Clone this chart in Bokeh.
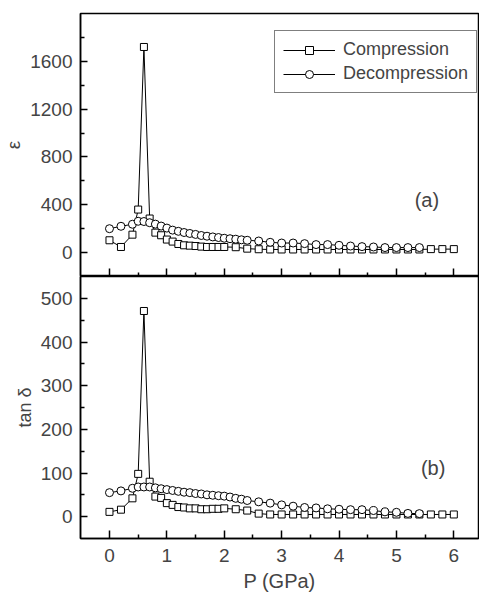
from bokeh.plotting import figure
from bokeh.layouts import column
from bokeh.models import FixedTicker, Range1d, Label, LinearAxis
from bokeh.embed import file_html
from bokeh.resources import INLINE

# ---- data ----
x_comp = [0, 0.2, 0.4, 0.5, 0.6, 0.7,
          0.8, 0.9, 1.0, 1.1, 1.2, 1.3, 1.4, 1.5, 1.6, 1.7, 1.8, 1.9, 2.0,
          2.2, 2.4,
          2.6, 2.8, 3.0, 3.2, 3.4, 3.6, 3.8, 4.0, 4.2, 4.4, 4.6, 4.8, 5.0, 5.2, 5.4, 5.6, 5.8, 6.0]
eps_comp = [103, 47, 150, 360, 1720, 285,
            167, 145, 109, 92, 72, 61, 58, 55, 50, 47, 47, 47, 47,
            45, 33,
            28, 26, 26, 26, 26, 26, 26, 26, 26, 26, 26, 26, 26, 26, 26, 29, 29, 29]
tan_comp = [11, 16, 42, 98, 471, 80,
            46, 43, 31, 27, 22, 21, 19, 19, 17, 17, 18, 18, 19,
            17, 14,
            7, 5, 5, 5, 5, 5, 5, 5, 5, 5, 5, 5, 5, 5, 5, 5, 5, 5]

x_dec = [0, 0.2,
         0.4, 0.5, 0.6, 0.7, 0.8, 0.9, 1.0, 1.1, 1.2, 1.3, 1.4, 1.5, 1.6, 1.7, 1.8, 1.9, 2.0, 2.1, 2.2, 2.3, 2.4,
         2.6, 2.8, 3.0, 3.2, 3.4, 3.6, 3.8, 4.0, 4.2, 4.4, 4.6, 4.8, 5.0, 5.2, 5.4]
eps_dec = [200, 220,
           237, 262, 260, 250, 238, 222, 205, 188, 178, 168, 160, 152, 143, 137, 131, 126, 120, 116, 112, 107, 103,
           97, 86, 80, 80, 75, 67, 67, 61, 55, 50, 47, 42, 42, 42, 42]
tan_dec = [55, 59,
           65, 68, 68, 68, 66, 64, 62, 60, 58, 56, 55, 53, 52, 50, 49, 48, 47, 45, 42, 40, 37,
           34, 31, 27, 24, 21, 20, 18, 17, 16, 16, 14, 11, 10, 7.5, 7]

x_ticks = [0, 1, 2, 3, 4, 5, 6]
x_minor = [0.5, 1.5, 2.5, 3.5, 4.5, 5.5]
eps_ticks = [0, 400, 800, 1200, 1600]
eps_minor = [200, 600, 1000, 1400, 1800]
tan_ticks = [0, 100, 200, 300, 400, 500]
tan_minor = [50, 150, 250, 350, 450]

FONT = "Liberation Sans"
W = 479


def tick_style(ax):
    ax.major_tick_out = 0
    ax.minor_tick_out = 0
    ax.axis_line_width = 1.5
    ax.major_tick_line_width = 1.5
    ax.minor_tick_line_width = 1.5


def style(p, yticks, yminor, ylabel, ylabel_size):
    p.outline_line_color = "black"
    p.outline_line_width = 1.5
    p.grid.visible = False
    p.background_fill_color = "white"
    p.border_fill_color = "white"
    for ax in p.yaxis:
        ax.ticker = FixedTicker(ticks=yticks, minor_ticks=yminor)
        ax.axis_label = ylabel
        ax.axis_label_text_font = FONT
        ax.axis_label_text_font_size = ylabel_size
        ax.axis_label_text_font_style = "normal"
        ax.axis_label_standoff = 3
        ax.major_label_text_font = FONT
        ax.major_label_text_font_size = "19px"
        ax.major_label_standoff = 8
        ax.major_tick_in = 7
        ax.minor_tick_in = 4
        tick_style(ax)


def series(p, x, y, marker, size, label):
    p.line(x, y, line_color="black", line_width=1, legend_label=label)
    p.scatter(x, y, marker=marker, size=size, line_color="black", line_width=1,
              fill_color="white", legend_label=label)


xr = Range1d(-0.505, 6.43)

# ---- top panel (epsilon) ----
top = figure(width=W, height=276, x_range=xr, y_range=Range1d(-200, 2000),
             output_backend="svg", toolbar_location=None, x_axis_location=None,
             min_border_left=80, min_border_right=1, min_border_top=13, min_border_bottom=0)
series(top, x_comp, eps_comp, "square", 7, "Compression")
series(top, x_dec, eps_dec, "circle", 8, "Decompression")
style(top, eps_ticks, eps_minor, "ε", "19px")
# bottom edge ticks of top panel, without labels
ax_major = LinearAxis(ticker=FixedTicker(ticks=[], minor_ticks=x_ticks))
ax_major.minor_tick_in = 8
tick_style(ax_major)
ax_major.major_label_text_font_size = "0px"
top.add_layout(ax_major, "below")
ax_minor = LinearAxis(ticker=FixedTicker(ticks=[], minor_ticks=x_minor))
ax_minor.minor_tick_in = 4
tick_style(ax_minor)
ax_minor.axis_line_alpha = 0
top.add_layout(ax_minor, "below")

top.add_layout(Label(x=5.53, y=440, text="(a)", text_font=FONT, text_font_size="20px",
                     text_align="center", text_baseline="middle"))
lg = top.legend[0]
lg.location = (194, 183)
lg.glyph_width = 52
lg.glyph_height = 20
lg.label_height = 20
lg.spacing = 3
lg.padding = 8
lg.margin = 0
lg.label_standoff = 8
lg.label_text_font = FONT
lg.label_text_font_size = "18px"
lg.border_line_color = "black"
lg.border_line_width = 1
lg.background_fill_alpha = 1

# ---- bottom panel (tan delta) ----
bot = figure(width=W, height=318, x_range=xr, y_range=Range1d(-50, 550),
             output_backend="svg", toolbar_location=None,
             min_border_left=80, min_border_right=1, min_border_top=0, min_border_bottom=55)
series(bot, x_comp, tan_comp, "square", 7, "Compression")
series(bot, x_dec, tan_dec, "circle", 8, "Decompression")
style(bot, tan_ticks, tan_minor, "tan δ", "18px")
for ax in bot.xaxis:
    ax.ticker = FixedTicker(ticks=x_ticks, minor_ticks=x_minor)
    ax.major_tick_in = 8
    ax.minor_tick_in = 4
    tick_style(ax)
    ax.axis_label = "P (GPa)"
    ax.axis_label_text_font = FONT
    ax.axis_label_text_font_size = "20px"
    ax.axis_label_text_font_style = "normal"
    ax.axis_label_standoff = 5
    ax.major_label_text_font = FONT
    ax.major_label_text_font_size = "19px"
    ax.major_label_standoff = 10
bot.legend.visible = False
bot.add_layout(Label(x=5.64, y=112, text="(b)", text_font=FONT, text_font_size="20px",
                     text_align="center", text_baseline="middle"))

layout = column(top, bot, spacing=0)
open("out.html", "w").write(file_html(layout, INLINE))
